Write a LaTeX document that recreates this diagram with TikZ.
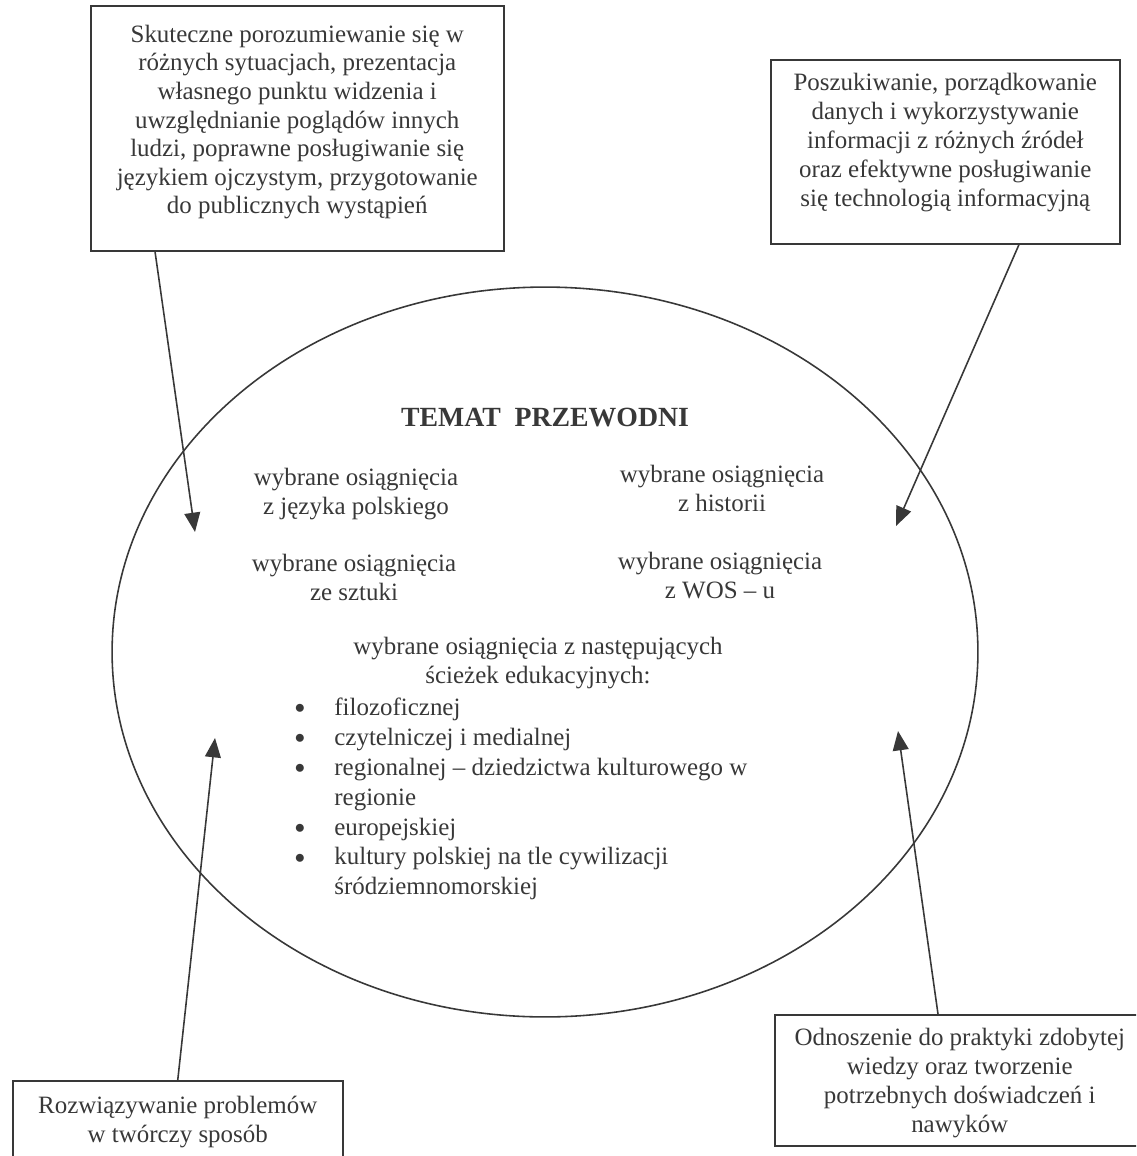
\documentclass[tikz,border=0pt]{standalone}
\usepackage{fontspec}
\setmainfont{Liberation Serif}
\usepackage{tikz}
\usetikzlibrary{arrows.meta, shapes.geometric, positioning}
\definecolor{ink}{HTML}{383838}
\newcommand\kropka{\makebox[22.8pt][l]{\raisebox{1pt}{\fontsize{10.5}{10.5}\selectfont ●}}}
\newcommand\wciecie{\makebox[22.8pt]{}}

\begin{document}
\begin{tikzpicture}[x=0.02cm, y=-0.02cm,
    box/.style={draw=ink, line width=0.9pt, inner sep=0pt},
    txt/.style={text=ink, align=center, inner sep=0pt, font=\fontsize{14.2}{16.5}\selectfont},
    arr/.style={draw=ink, line width=0.9pt, -{Triangle[length=11pt, width=9pt]}}
    ]
    \useasboundingbox (0,0) rectangle (1136,1156);
    \clip (0,0) rectangle (1136,1156);

    % elipsa
    \node[box, ellipse, minimum width=17.32cm, minimum height=14.6cm] (rdzen) at (545,652) {};

    % ramki
    \node[box, anchor=north west, minimum width=8.26cm, minimum height=4.9cm] (komun) at (90,5) {};
    \node[box, anchor=north west, minimum width=6.98cm, minimum height=3.68cm] (info) at (770,59) {};
    \node[box, anchor=north west, minimum width=6.6cm, minimum height=2cm] (probl) at (12,1080) {};
    \node[box, anchor=north west, minimum width=7.4cm, minimum height=2.62cm] (prakt) at (774,1014) {};

    % teksty w ramkach
    \node[txt, font=\fontsize{14.2}{16.3}\selectfont, below=11.1pt of komun.north] (komunT) {Skuteczne porozumiewanie się w\\różnych sytuacjach, prezentacja\\własnego punktu widzenia i\\uwzględnianie poglądów innych\\ludzi, poprawne posługiwanie się\\językiem ojczystym, przygotowanie\\do publicznych wystąpień};
    \node[txt, below=7.7pt of info.north] (infoT) {Poszukiwanie, porządkowanie\\danych i wykorzystywanie\\informacji z różnych źródeł\\oraz efektywne posługiwanie\\się technologią informacyjną};
    \node[txt, below=8.9pt of probl.north] (problT) {Rozwiązywanie problemów\\w twórczy sposób};
    \node[txt, below=7.8pt of prakt.north] (praktT) {Odnoszenie do praktyki zdobytej\\wiedzy oraz tworzenie\\potrzebnych doświadczeń i\\nawyków};

    % wnętrze elipsy
    \node[txt, font=\bfseries\fontsize{15.8}{18}\selectfont] (temat) at (545,418) {TEMAT\ \ PRZEWODNI};
    \node[txt, anchor=north] (polski) at (356,467.6) {wybrane osiągnięcia\\z języka polskiego};
    \node[txt, anchor=north] (hist) at (722,464.6) {wybrane osiągnięcia\\z historii};
    \node[txt, anchor=north] (sztuka) at (354,553.6) {wybrane osiągnięcia\\ze sztuki};
    \node[txt, anchor=north] (wos) at (720,551.6) {wybrane osiągnięcia\\z WOS – u};
    \node[txt, anchor=north] (sciezki) at (538,636.6) {wybrane osiągnięcia z następujących\\ścieżek edukacyjnych:};
    \node[txt, align=left, anchor=north west, font=\fontsize{14.2}{17}\selectfont] (lista) at (294,697.6)
        {\kropka filozoficznej\\
         \kropka czytelniczej i medialnej\\
         \kropka regionalnej – dziedzictwa kulturowego w\\
         \wciecie regionie\\
         \kropka europejskiej\\
         \kropka kultury polskiej na tle cywilizacji\\
         \wciecie śródziemnomorskiej};

    % strzałki
    \coordinate (grotA) at (195,532);
    \coordinate (grotB) at (896,526);
    \coordinate (grotC) at (215,738);
    \coordinate (grotD) at (898,731);
    \draw[arr] (komun.south west) ++(65,0) -- (grotA);
    \draw[arr] (info.south west) ++(249,0) -- (grotB);
    \draw[arr] (probl.north) -- (grotC);
    \draw[arr] (prakt.north west) ++(164,0) -- (grotD);
\end{tikzpicture}
\end{document}
